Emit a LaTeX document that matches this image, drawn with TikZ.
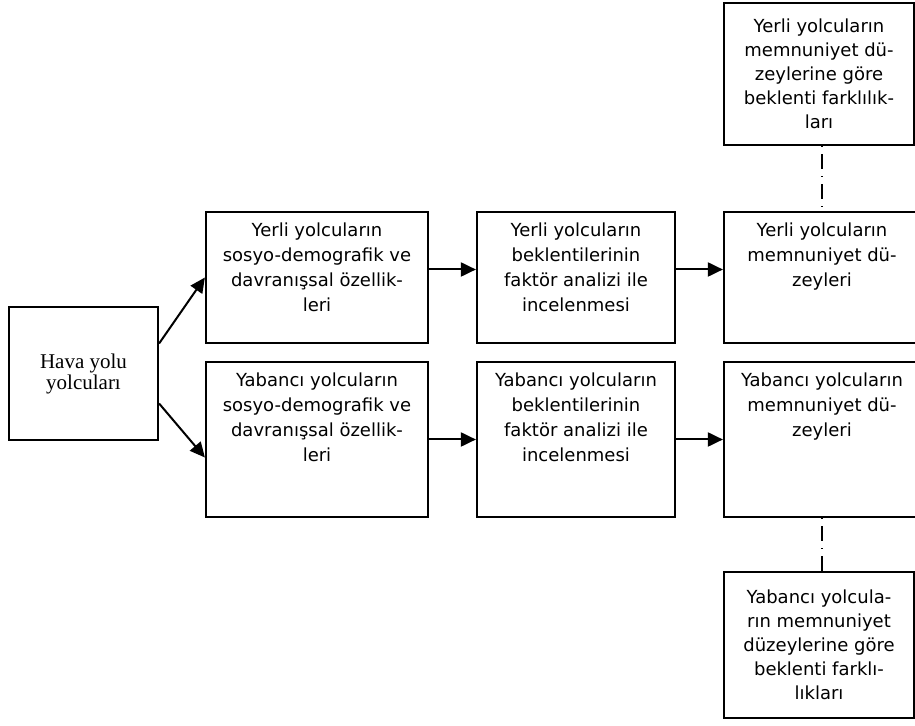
\documentclass[tikz,border=0pt]{standalone}
\usepackage{fontspec}
\setmainfont{DejaVu Sans}
\newfontfamily\havafont{Liberation Serif}
\usetikzlibrary{positioning,arrows.meta}

\begin{document}
\begin{tikzpicture}[x=0.5pt,y=-0.5pt,
  kutu/.style={rectangle,draw=black,line width=1.1pt,inner sep=0pt,align=center,font=\fontsize{9}{12}\selectfont},
  yazi/.style={align=center,inner sep=0pt,font=\fontsize{9}{12.5}\selectfont},
  ok/.style={-{Triangle[length=7.5pt,width=7pt]},line width=1pt},
  kesik/.style={line width=0.8pt,dash pattern=on 0.5pt off 3.5pt on 7.5pt off 3.5pt}]
\useasboundingbox (0,0) rectangle (915,726);
\clip (0,0) rectangle (915,726);
% ---- sol: hava yolu yolculari ----
\node[kutu,minimum width=74.5pt,minimum height=66.5pt,font=\havafont\fontsize{10.5}{10.5}\selectfont] (hava) at (83.5,373.5) {Hava yolu\\yolcuları};
% ---- yerli yolcular ----
\node[kutu,minimum width=111pt,minimum height=65.5pt] (a1) at (317,277.5) {};
\node[kutu,minimum width=99pt,minimum height=65.5pt] (b1) at (576,277.5) {};
\node[kutu,minimum width=98pt,minimum height=65.5pt] (c1) at (822,277.5) {};
\node[kutu,minimum width=95pt,minimum height=71pt] (d1) at (819,74) {Yerli yolcuların\\memnuniyet dü-\\zeylerine göre\\beklenti farklılık-\\ları};
\node[yazi,below=6pt of a1.north] (a1t) {Yerli yolcuların\\sosyo-demografik ve\\davranışsal özellik-\\leri};
\node[yazi,below=6pt of b1.north] (b1t) {Yerli yolcuların\\beklentilerinin\\faktör analizi ile\\incelenmesi};
\node[yazi,below=6pt of c1.north] (c1t) {Yerli yolcuların\\memnuniyet dü-\\zeyleri};
% ---- yabanci yolcular ----
\node[kutu,minimum width=111pt,minimum height=77.5pt] (a2) at (317,439.5) {};
\node[kutu,minimum width=99pt,minimum height=77.5pt] (b2) at (576,439.5) {};
\node[kutu,minimum width=98pt,minimum height=77.5pt] (c2) at (822,439.5) {};
\node[kutu,minimum width=95pt,minimum height=73pt] (d2) at (819,645) {Yabancı yolcula-\\rın memnuniyet\\düzeylerine göre\\beklenti farklı-\\lıkları};
\node[yazi,below=6pt of a2.north] (a2t) {Yabancı yolcuların\\sosyo-demografik ve\\davranışsal özellik-\\leri};
\node[yazi,below=6pt of b2.north] (b2t) {Yabancı yolcuların\\beklentilerinin\\faktör analizi ile\\incelenmesi};
\node[yazi,below=6pt of c2.north] (c2t) {Yabancı yolcuların\\memnuniyet dü-\\zeyleri};
% ---- oklar ----
\draw[ok] ([yshift=15pt]hava.east) -- (a1.west);
\draw[ok] ([yshift=-15pt]hava.east) -- ([yshift=-9pt]a2.west);
\draw[ok] ([yshift=4pt]a1.east) -- ([yshift=4pt]b1.west);
\draw[ok] ([yshift=4pt]b1.east) -- ([yshift=4pt]c1.west);
\draw[ok] (a2.east) -- (b2.west);
\draw[ok] (b2.east) -- (c2.west);
\draw[kesik] (d1.south -| c1.north) -- (c1.north);
\draw[kesik] (c2.south) -- (c2.south |- d2.north);
\end{tikzpicture}
\end{document}
